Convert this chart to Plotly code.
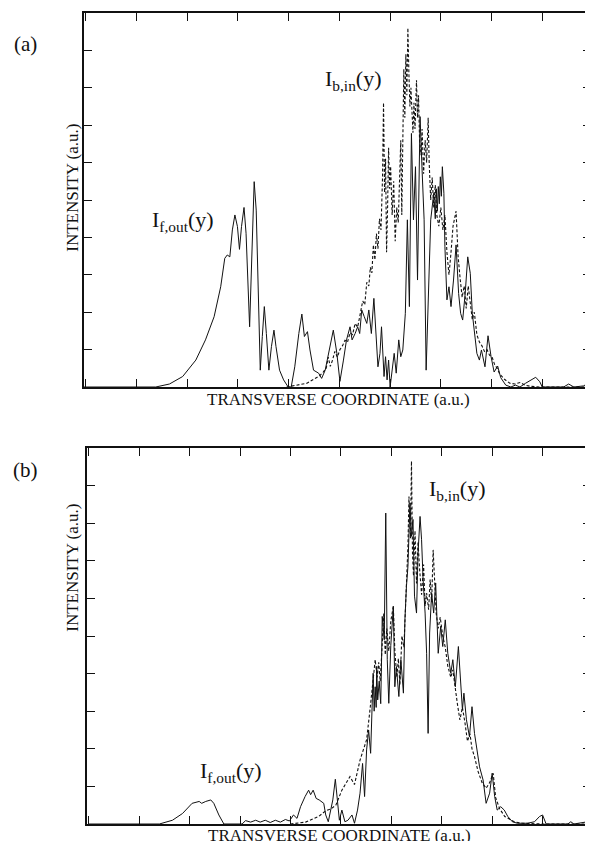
import plotly.graph_objects as go

# ---------------- data (arbitrary units, 1 unit = 1 tick interval) ----------------
# Panel (a): forward output I_f,out (solid) and backward input I_b,in (dashed)
xa_f = [0.00, 1.42, 1.69, 1.95, 2.21, 2.40, 2.57, 2.70, 2.78, 2.83, 2.88, 2.93, 2.98, 3.03, 3.07,
        3.11, 3.16, 3.20, 3.27, 3.31, 3.36, 3.40, 3.45, 3.48, 3.52, 3.56, 3.60, 3.65, 3.70, 3.75,
        3.79, 3.86, 3.94, 4.03, 4.09, 4.16, 4.24, 4.30, 4.35, 4.41, 4.46, 4.53, 4.63, 4.69, 4.76,
        4.86, 4.92, 4.99, 5.05, 5.12, 5.18, 5.25, 5.29, 5.35, 5.40, 5.44, 5.48, 5.53, 5.58, 5.62,
        5.67, 5.72, 5.76, 5.80, 5.84, 5.87, 5.92, 5.95, 5.98, 6.01, 6.04, 6.08, 6.12, 6.16, 6.21,
        6.25, 6.29, 6.34, 6.38, 6.42, 6.46, 6.50, 6.54, 6.58, 6.63, 6.67, 6.71, 6.75, 6.80, 6.84,
        6.90, 6.93, 6.95, 6.97, 6.99, 7.01, 7.03, 7.05, 7.07, 7.10, 7.12, 7.16, 7.20, 7.24, 7.29,
        7.34, 7.39, 7.43, 7.47, 7.52, 7.57, 7.62, 7.66, 7.70, 7.75, 7.80, 7.84, 7.91, 7.97, 8.03,
        8.09, 8.16, 8.22, 8.32, 8.42, 8.51, 8.60, 8.71, 8.81, 8.91, 8.99, 9.04, 9.46, 9.56, 9.66,
        9.86, 9.92, 10.0]
ya_f = [0.00, 0.00, 0.08, 0.28, 0.72, 1.26, 1.88, 2.68, 3.44, 3.53, 3.48, 4.20, 4.60, 4.29, 3.68,
        4.29, 4.80, 4.11, 1.61, 3.40, 5.49, 4.73, 2.06, 0.45, 1.35, 2.15, 1.43, 0.45, 1.08, 1.52,
        1.08, 0.45, 0.19, 0.00, 0.00, 0.54, 1.43, 1.95, 1.35, 1.48, 0.99, 0.45, 0.37, 0.23, 0.45,
        1.08, 1.52, 0.90, 0.15, 0.72, 1.26, 1.61, 1.26, 1.43, 1.61, 1.43, 2.06, 1.88, 1.70, 2.06,
        1.43, 2.37, 1.52, 0.54, 0.90, 1.61, 0.28, 0.81, 0.19, 0.72, 0.00, 0.45, 0.90, 0.37, 1.26,
        0.81, 0.99, 1.97, 4.47, 2.15, 6.78, 4.47, 5.89, 2.86, 7.23, 5.80, 4.47, 0.45, 2.68, 4.47,
        5.18, 4.50, 5.30, 4.70, 5.36, 4.90, 5.62, 5.10, 5.89, 5.18, 3.75, 2.33, 2.68, 2.15, 2.86,
        3.80, 2.50, 1.97, 1.79, 2.50, 3.48, 3.04, 1.97, 1.43, 0.90, 0.72, 0.99, 0.54, 1.37, 0.81,
        0.40, 0.56, 0.25, 0.05, 0.00, 0.05, 0.00, 0.10, 0.19, 0.26, 0.14, 0.00, 0.00, 0.08, 0.00,
        0.03, 0.10, 0.03]

xa_b = [4.00, 4.20, 4.40, 4.55, 4.65, 4.72, 4.78, 4.82, 4.86, 4.90, 4.95, 5.00, 5.05, 5.10, 5.15,
        5.20, 5.25, 5.30, 5.35, 5.40, 5.45, 5.50, 5.54, 5.58, 5.62, 5.65, 5.68, 5.71, 5.74, 5.77,
        5.80, 5.83, 5.86, 5.89, 5.91, 5.93, 5.95, 5.97, 5.99, 6.01, 6.03, 6.05, 6.08, 6.11, 6.14,
        6.17, 6.20, 6.23, 6.25, 6.27, 6.29, 6.31, 6.33, 6.35, 6.37, 6.39, 6.41, 6.43, 6.45, 6.47,
        6.49, 6.51, 6.53, 6.56, 6.58, 6.60, 6.62, 6.65, 6.67, 6.70, 6.73, 6.76, 6.79, 6.81, 6.84,
        6.87, 6.90, 6.93, 6.96, 7.00, 7.04, 7.08, 7.12, 7.16, 7.20, 7.24, 7.28, 7.34, 7.38, 7.42,
        7.46, 7.50, 7.54, 7.58, 7.62, 7.66, 7.70, 7.75, 7.80, 7.85, 7.90, 7.95, 8.00, 8.05, 8.10,
        8.15, 8.20, 8.30, 8.40, 8.50, 8.60, 8.70, 8.80, 9.00, 10.0]
ya_b = [0.00, 0.05, 0.10, 0.22, 0.30, 0.40, 0.50, 0.80, 0.55, 0.70, 0.95, 0.80, 1.00, 1.10, 1.25,
        1.20, 1.45, 1.40, 1.70, 1.60, 1.95, 2.30, 2.20, 2.80, 2.70, 3.20, 3.05, 3.80, 3.40, 4.10,
        3.70, 4.50, 4.20, 5.60, 7.60, 5.20, 6.10, 3.60, 4.80, 6.40, 5.30, 5.90, 4.60, 5.50, 3.90,
        4.80, 4.40, 5.60, 6.60, 4.60, 7.10, 8.50, 7.20, 8.90, 7.80, 9.60, 8.40, 7.50, 8.00, 7.10,
        6.80, 7.60, 6.90, 8.20, 7.20, 7.80, 6.60, 6.20, 6.90, 5.70, 6.60, 6.00, 7.20, 6.00, 5.00,
        5.60, 4.80, 5.40, 4.60, 4.30, 4.80, 4.20, 4.60, 3.60, 3.00, 3.60, 4.30, 4.70, 3.50, 2.90,
        2.40, 2.70, 2.10, 2.70, 2.20, 1.80, 2.00, 1.40, 1.20, 1.10, 0.95, 1.00, 0.85, 0.80, 0.60,
        0.50, 0.35, 0.20, 0.10, 0.08, 0.12, 0.05, 0.02, 0.00, 0.00]

# Panel (b)
xb_f = [0.00, 1.40, 1.66, 1.86, 2.05, 2.19, 2.24, 2.32, 2.42, 2.48, 2.58, 2.68, 3.04, 3.11, 3.21,
        3.31, 3.40, 3.50, 3.60, 3.70, 3.80, 3.90, 3.98, 4.06, 4.13, 4.20, 4.29, 4.36, 4.40, 4.45,
        4.51, 4.57, 4.66, 4.70, 4.75, 4.80, 4.84, 4.89, 4.93, 4.97, 5.02, 5.08, 5.14, 5.22, 5.27,
        5.33, 5.38, 5.43, 5.47, 5.51, 5.55, 5.59, 5.64, 5.66, 5.68, 5.70, 5.71, 5.73, 5.76, 5.79,
        5.81, 5.82, 5.86, 5.89, 5.92, 5.95, 5.99, 6.04, 6.07, 6.10, 6.15, 6.19, 6.24, 6.27, 6.30,
        6.33, 6.37, 6.40, 6.43, 6.46, 6.50, 6.53, 6.57, 6.60, 6.63, 6.67, 6.70, 6.73, 6.76, 6.80,
        6.84, 6.88, 6.93, 6.98, 7.02, 7.07, 7.12, 7.18, 7.22, 7.27, 7.33, 7.37, 7.41, 7.44, 7.49,
        7.55, 7.60, 7.65, 7.71, 7.75, 7.82, 7.88, 7.95, 8.00, 8.05, 8.10, 8.17, 8.24, 8.31, 8.40,
        8.50, 8.70, 8.84, 8.94, 9.00, 9.07, 9.50, 9.56, 9.62, 9.85, 9.89, 9.96]
yb_f = [0.00, 0.00, 0.10, 0.28, 0.55, 0.60, 0.55, 0.60, 0.64, 0.55, 0.24, 0.00, 0.00, 0.09, 0.05,
        0.10, 0.05, 0.10, 0.04, 0.10, 0.05, 0.12, 0.08, 0.24, 0.15, 0.46, 0.73, 0.90, 0.78, 0.90,
        0.68, 0.64, 0.55, 0.24, 0.06, 0.37, 0.64, 1.19, 0.55, 0.10, 0.37, 0.06, 0.10, 0.24, 0.02,
        0.37, 0.82, 1.61, 0.73, 1.97, 2.50, 1.88, 4.01, 3.00, 3.65, 3.10, 4.19, 3.30, 3.80, 3.20,
        4.60, 5.52, 4.90, 8.27, 4.37, 3.21, 4.75, 5.79, 3.65, 4.19, 3.39, 4.37, 3.48, 5.43, 6.32,
        6.85, 8.54, 7.65, 8.10, 6.06, 5.61, 7.20, 8.18, 7.56, 6.50, 5.61, 4.54, 2.41, 5.08, 6.14,
        5.61, 6.41, 4.54, 5.26, 4.72, 5.43, 4.54, 4.01, 4.37, 3.65, 4.72, 4.01, 3.04, 3.48, 2.77,
        2.32, 3.12, 2.41, 1.88, 1.52, 1.17, 0.55, 0.82, 1.35, 0.73, 0.37, 0.46, 0.37, 0.20, 0.06,
        0.02, 0.02, 0.06, 0.20, 0.24, 0.00, 0.00, 0.06, 0.00, 0.05, 0.12, 0.05]

xb_b = [4.00, 4.30, 4.56, 4.70, 4.80, 4.90, 5.02, 5.08, 5.18, 5.27, 5.33, 5.38, 5.44, 5.51, 5.57,
        5.62, 5.66, 5.68, 5.72, 5.75, 5.78, 5.81, 5.85, 5.88, 5.91, 5.95, 5.99, 6.04, 6.07, 6.11,
        6.14, 6.17, 6.21, 6.25, 6.30, 6.33, 6.35, 6.38, 6.40, 6.42, 6.44, 6.47, 6.50, 6.53, 6.56,
        6.60, 6.64, 6.67, 6.70, 6.74, 6.77, 6.80, 6.83, 6.86, 6.89, 6.93, 6.97, 7.02, 7.07, 7.12,
        7.18, 7.22, 7.26, 7.31, 7.36, 7.41, 7.46, 7.51, 7.56, 7.60, 7.65, 7.72, 7.80, 7.88, 7.95,
        8.02, 8.07, 8.15, 8.25, 8.35, 8.45, 8.60, 9.00, 9.96]
yb_b = [0.00, 0.05, 0.20, 0.35, 0.40, 0.50, 0.90, 1.05, 1.26, 1.05, 1.40, 1.70, 1.95, 2.24, 2.95,
        3.70, 4.10, 4.37, 3.90, 4.30, 3.80, 4.54, 5.60, 4.50, 5.20, 4.60, 5.40, 5.79, 4.60, 3.90,
        4.40, 3.70, 5.00, 4.70, 6.50, 7.40, 8.71, 7.60, 9.65, 7.20, 6.60, 7.80, 6.40, 7.50, 6.80,
        6.10, 6.90, 5.80, 6.14, 5.70, 6.50, 5.90, 7.29, 6.40, 5.60, 5.20, 5.50, 5.00, 4.70, 4.20,
        3.90, 4.10, 3.66, 3.20, 2.77, 3.10, 2.70, 2.20, 2.40, 2.00, 1.79, 1.40, 1.10, 0.95, 1.10,
        1.35, 0.70, 0.40, 0.20, 0.12, 0.05, 0.02, 0.00, 0.00]

# ---------------- figure ----------------
# The page body adds an 8 px margin, so the figure is 8 px smaller than the window
OFF = 8
W, H = 593 - OFF, 841 - OFF
def px(x):
    return (x - OFF) / W
def py(y):
    return 1 - (y - OFF) / H

FONT = "Liberation Serif, Times New Roman, serif"
INK = "#111111"

fig = go.Figure()
line_f = dict(color=INK, width=1.0)
line_b = dict(color=INK, width=1.1, dash="3px,2px")

fig.add_trace(go.Scatter(x=xa_f, y=ya_f, mode="lines", line=line_f, xaxis="x", yaxis="y"))
fig.add_trace(go.Scatter(x=xa_b, y=ya_b, mode="lines", line=line_b, xaxis="x", yaxis="y"))
fig.add_trace(go.Scatter(x=xb_f, y=yb_f, mode="lines", line=line_f, xaxis="x2", yaxis="y2"))
fig.add_trace(go.Scatter(x=xb_b, y=yb_b, mode="lines", line=line_b, xaxis="x2", yaxis="y2"))

axis_common = dict(showgrid=False, zeroline=False, showticklabels=False,
                   ticks="inside", ticklen=8, tickwidth=1.2, tickcolor=INK,
                   showline=True, linecolor=INK, linewidth=1.6, mirror="ticks")

fig.update_layout(
    width=W, height=H,
    margin=dict(l=0, r=0, t=0, b=0),
    paper_bgcolor="white", plot_bgcolor="white",
    showlegend=False,
    xaxis=dict(domain=[px(84), 1.0], range=[0, 10], tick0=0.04, dtick=1, anchor="y", **axis_common),
    yaxis=dict(domain=[py(387), py(13)], range=[0, 10], dtick=1, anchor="x", **axis_common),
    xaxis2=dict(domain=[px(87), 1.0], range=[-0.04, 9.96], tick0=0, dtick=1, anchor="y2", **axis_common),
    yaxis2=dict(domain=[py(824), py(448)], range=[0, 10], dtick=1, anchor="x2", **axis_common),
)

def ann(text, x, y, size, angle=0, xanchor="center", yanchor="middle"):
    fig.add_annotation(text=text, x=px(x), y=py(y), xref="paper", yref="paper",
                       showarrow=False, textangle=angle, xanchor=xanchor, yanchor=yanchor,
                       font=dict(family=FONT, size=size, color=INK))

ann("(a)", 26, 44, 21)
ann("(b)", 26, 470, 21)
ann("INTENSITY (a.u.)", 72, 188, 17, angle=-90)
ann("INTENSITY (a.u.)", 72, 568, 17, angle=-90)
ann("TRANSVERSE COORDINATE (a.u.)", 340, 399, 17)
ann("TRANSVERSE COORDINATE (a.u.)", 341, 835, 17)
ann("I<sub>f,out</sub>(y)", 184, 221, 22)
ann("I<sub>b,in</sub>(y)", 355, 80, 22)
ann("I<sub>b,in</sub>(y)", 459, 490, 22)
ann("I<sub>f,out</sub>(y)", 232, 772, 22)

fig.write_html("out.html")
